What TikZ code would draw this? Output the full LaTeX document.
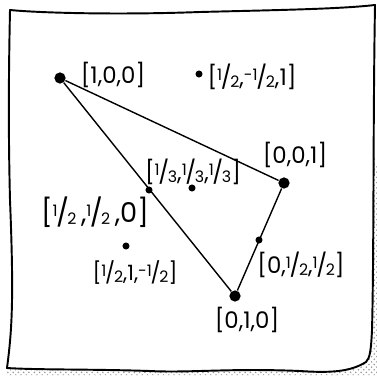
\documentclass[tikz,border=0pt]{standalone}
\usepackage{fontspec}
\setmainfont{Poppins}
\usetikzlibrary{positioning,patterns}
\tikzset{
  bigdot/.style={circle, fill=black, inner sep=0pt, minimum size=6.4pt},
  smalldot/.style={circle, fill=black, inner sep=0pt, minimum size=4pt},
  edgeln/.style={line width=0.8pt, line join=round},
  paperln/.style={line width=1.1pt, line join=round, line cap=round},
  coordlbl/.style={inner sep=0pt, font=\fontsize{13}{15}\selectfont},
}
% hand written fraction like 1/2
\newcommand{\hf}[2]{\raisebox{0.4ex}{\fontsize{9}{10}\selectfont #1}\kern-0.06em/\kern-0.06em\raisebox{-0.15ex}{\fontsize{9}{10}\selectfont #2}}
\newcommand{\mhf}[2]{\raisebox{0.4ex}{\fontsize{9}{10}\selectfont -#1}\kern-0.06em/\kern-0.06em\raisebox{-0.15ex}{\fontsize{9}{10}\selectfont #2}}

\begin{document}
\begin{tikzpicture}[x=0.02cm, y=-0.02cm]
    \useasboundingbox (0,0) rectangle (377,375);
    % shadow of the sheet
    \fill[pattern=crosshatch dots, pattern color=gray!80]
      (372,150) -- (377,165) -- (377,375) -- (6,375) -- (6,366) -- cycle;
    % the sheet
    \draw[paperln, fill=white]
      (10,10) .. controls (40,13) and (120,15) .. (200,12)
      .. controls (280,10) and (340,9) .. (375,5)
      .. controls (373,120) and (374,250) .. (372,330)
      .. controls (371,350) and (370,358) .. (366,362)
      .. controls (350,372) and (330,373) .. (300,371)
      .. controls (230,368) and (190,373) .. (150,371)
      .. controls (90,369) and (40,370) .. (7,368)
      .. controls (12,330) and (14,300) .. (10,200)
      .. controls (8,120) and (9,60) .. (10,10) -- cycle;

    % vertices and marked points
    \node[bigdot] (n100) at (60,78) {};
    \node[bigdot] (n001) at (284,183) {};
    \node[bigdot] (n010) at (235,296) {};
    \node[smalldot] (nhh0) at (149,190) {};
    \node[smalldot] (n0hh) at (259,240) {};
    \node[smalldot] (nthird) at (192,188) {};
    \node[smalldot] (nhmh1) at (199,74) {};
    \node[smalldot] (nh1mh) at (126,246) {};

    % triangle
    \draw[edgeln] (n100) -- (n001) -- (n010) -- (n100);

    % labels
    \node[coordlbl] (l100) at (113,75) {[1,0,0]};
    \node[coordlbl] (lhmh1) at (252,77) {[\hf12,\mhf12,1]};
    \node[coordlbl] (l001) at (295,155) {[0,0,1]};
    \node[coordlbl] (lthird) at (193,172) {[\hf13,\hf13,\hf13]};
    \node[coordlbl, font=\fontsize{15.5}{17}\selectfont] (lhh0) at (95,212) {[\hf12\,,\hf12\,,0]};
    \node[coordlbl, font=\fontsize{12}{14}\selectfont] (lh1mh) at (135,273) {[\hf12,1,\mhf12]};
    \node[coordlbl] (l0hh) at (301,265) {[0,\hf12,\hf12]};
    \node[coordlbl] (l010) at (247,320) {[0,1,0]};
\end{tikzpicture}
\end{document}
